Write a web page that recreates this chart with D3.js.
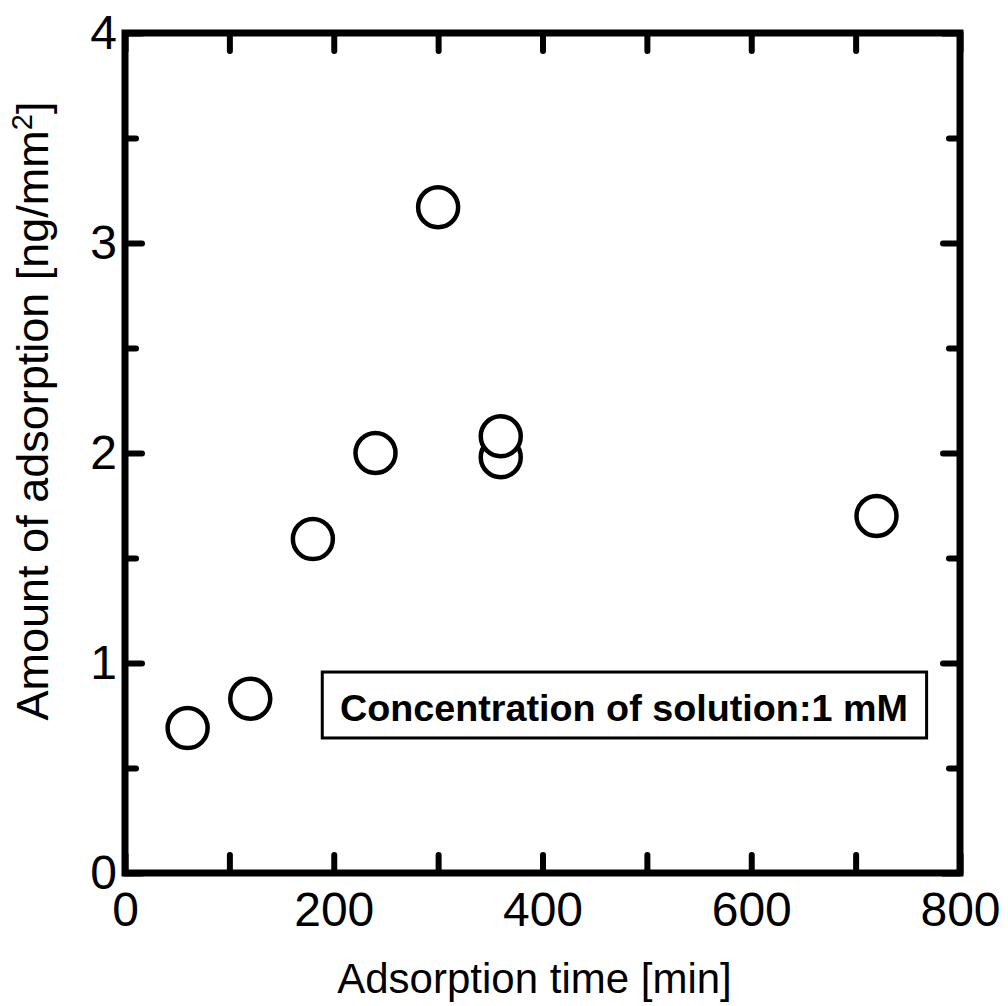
<!DOCTYPE html>
<html>
<head>
<meta charset="utf-8">
<script src="https://cdn.jsdelivr.net/npm/d3@7"></script>
<style>
  body { margin: 0; background: #fff; }
  text { font-family: "Liberation Sans", Arial, sans-serif; fill: #000; }
</style>
</head>
<body>
<div id="chart"></div>
<script>
// data
var times = [60, 120, 180, 240, 300, 360, 360, 720];
var amounts = [0.69, 0.83, 1.59, 2.00, 3.17, 1.98, 2.08, 1.70];
var xTicks = [0, 100, 200, 300, 400, 500, 600, 700, 800];
var yTicks = [0, 0.5, 1, 1.5, 2, 2.5, 3, 3.5, 4];
var legendText = "Concentration of solution:1 mM";

var width = 1008, height = 1006;
var margin = { top: 33, right: 48, bottom: 133, left: 125 };
var plotW = width - margin.left - margin.right,
    plotH = height - margin.top - margin.bottom;

var svg = d3.select("#chart").append("svg")
    .attr("width", width)
    .attr("height", height);

var g = svg.append("g")
    .attr("transform", "translate(" + margin.left + "," + margin.top + ")");

var x = d3.scaleLinear().domain([0, 800]).range([0, plotW]);
var y = d3.scaleLinear().domain([0, 4]).range([plotH, 0]);

var labelX = function (d) { return d % 200 === 0 ? d : ""; };
var labelY = function (d) { return Number.isInteger(d) ? d : ""; };

// axes: ticks point inward on all four sides
var axBottom = g.append("g").attr("transform", "translate(0," + plotH + ")")
    .call(d3.axisBottom(x).tickValues(xTicks).tickSize(-18).tickPadding(19).tickFormat(labelX));
var axTop = g.append("g")
    .call(d3.axisTop(x).tickValues(xTicks).tickSize(-18).tickFormat(""));
var axLeft = g.append("g")
    .call(d3.axisLeft(y).tickValues(yTicks).tickSize(-17).tickPadding(8).tickFormat(labelY));
var axRight = g.append("g").attr("transform", "translate(" + plotW + ",0)")
    .call(d3.axisRight(y).tickValues(yTicks).tickSize(-17).tickFormat(""));

[axBottom, axTop, axLeft, axRight].forEach(function (ax) {
    ax.select(".domain").remove();
    ax.selectAll(".tick line")
        .attr("stroke", "#000")
        .attr("stroke-width", 6)
        .attr("stroke-linecap", "round");
    ax.selectAll(".tick text")
        .attr("font-size", 48)
        .attr("font-family", "Liberation Sans, Arial, sans-serif")
        .attr("fill", "#000");
});

// shorter minor ticks on the y axes
axLeft.selectAll(".tick line")
    .filter(function (d) { return !Number.isInteger(d); })
    .attr("x2", 11);
axRight.selectAll(".tick line")
    .filter(function (d) { return !Number.isInteger(d); })
    .attr("x2", -11);

// frame
g.append("rect")
    .attr("x", 0).attr("y", 0)
    .attr("width", plotW).attr("height", plotH)
    .attr("fill", "none")
    .attr("stroke", "#000")
    .attr("stroke-width", 7);

// legend box
var legend = g.append("g");
legend.append("rect")
    .attr("x", x(189)).attr("y", y(0.957))
    .attr("width", x(768) - x(189)).attr("height", y(0.643) - y(0.957))
    .attr("fill", "#fff")
    .attr("stroke", "#000")
    .attr("stroke-width", 3);
legend.append("text")
    .attr("x", x(478)).attr("y", y(0.725))
    .attr("text-anchor", "middle")
    .attr("font-size", 37)
    .attr("font-weight", "bold")
    .attr("textLength", 568)
    .attr("lengthAdjust", "spacingAndGlyphs")
    .text(legendText);

// points
g.selectAll("circle.pt")
    .data(times)
    .enter()
    .append("circle")
    .attr("class", "pt")
    .attr("cx", function (d) { return x(d); })
    .attr("cy", function (d, i) { return y(amounts[i]); })
    .attr("r", 20)
    .attr("fill", "#fff")
    .attr("stroke", "#000")
    .attr("stroke-width", 4.5);

// axis titles
svg.append("text")
    .attr("x", margin.left + x(400) - 8)
    .attr("y", 993)
    .attr("text-anchor", "middle")
    .attr("font-size", 42)
    .text("Adsorption time [min]");

var yt = svg.append("text")
    .attr("transform", "translate(48," + (margin.top + y(2) - 42) + ") rotate(-90)")
    .attr("text-anchor", "middle")
    .attr("font-size", 45);
yt.append("tspan").text("Amount of adsorption [ng/mm");
yt.append("tspan").attr("font-size", 29).attr("dy", -16).text("2");
yt.append("tspan").attr("dy", 16).text("]");
</script>
</body>
</html>
